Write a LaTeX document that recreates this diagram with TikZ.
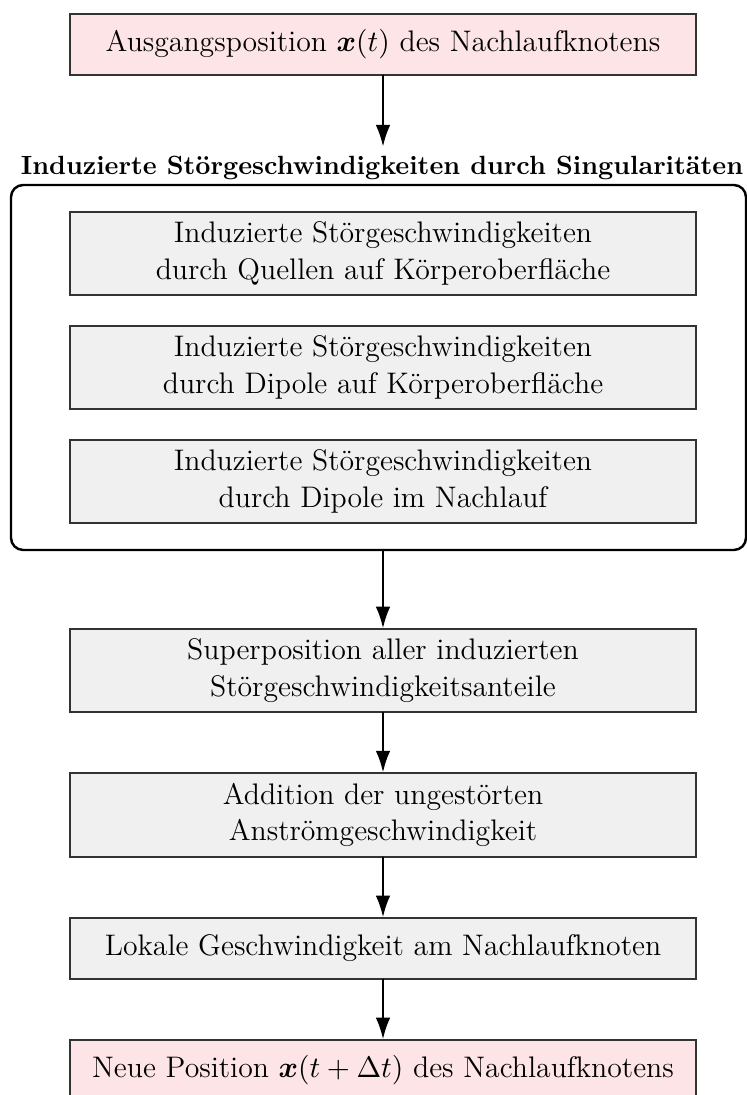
\documentclass[tikz,border=0pt]{standalone}
\usepackage{tikz}
\usepackage{xcolor}
\usepackage{amsmath}
\usepackage{amsfonts, amssymb}
\usetikzlibrary{arrows.meta}

\definecolor{startpink}{RGB}{253,228,230}
\definecolor{stepgray}{RGB}{240,240,240}

\begin{document}
\begin{tikzpicture}[>={Latex[length=8pt,width=5.4pt]}, line cap=round, x=0.37pt, y=0.37pt,
  stepbox/.style={draw=black!80, line width=0.5pt, fill=stepgray, align=center,
    minimum width=231.6pt, inner sep=0pt, font=\fontsize{11}{13.6}\selectfont},
  endbox/.style={stepbox, fill=startpink},
  flow/.style={->, line width=0.8pt}]

% --- layout helpers ---
\def\C{383}     % center column x
\def\H{1095}    % picture height

\useasboundingbox (0,0) rectangle (747,\H);

% --- start ---
\node[endbox, minimum height=22.6pt] (start) at (\C,\H-44.5)
  {Ausgangsposition $\boldsymbol{x}(t)$ des Nachlaufknotens};

% --- singularities group ---
\node[font=\bfseries\fontsize{9.75}{12}\selectfont] (grouptitle) at (382,\H-168)
  {Induzierte Störgeschwindigkeiten durch Singularitäten};
\node[draw, line width=0.9pt, rounded corners=4.5pt, minimum width=271.95pt,
  minimum height=135.05pt, inner sep=0pt] (group) at (378.5,\H-367.5) {};

\node[stepbox, minimum height=30.7pt] (quellen) at (\C,\H-253.5)
  {Induzierte Störgeschwindigkeiten\\durch Quellen auf Körperoberfläche};
\node[stepbox, minimum height=30.7pt] (dipole) at (\C,\H-367.5)
  {Induzierte Störgeschwindigkeiten\\durch Dipole auf Körperoberfläche};
\node[stepbox, minimum height=30.7pt] (nachlauf) at (\C,\H-481.5)
  {Induzierte Störgeschwindigkeiten\\durch Dipole im Nachlauf};

% --- remaining steps (top to bottom) ---
\node[stepbox, minimum height=30.7pt] (superpos) at (\C,\H-670.5)
  {Superposition aller induzierten\\Störgeschwindigkeitsanteile};
\node[stepbox, minimum height=31pt] (addition) at (\C,\H-815)
  {Addition der ungestörten\\Anströmgeschwindigkeit};
\node[stepbox, minimum height=22.6pt] (lokal) at (\C,\H-948.5)
  {Lokale Geschwindigkeit am Nachlaufknoten};
\node[endbox, minimum height=22.6pt] (neu) at (\C,\H-1070.5)
  {Neue Position $\boldsymbol{x}(t+\Delta t)$ des Nachlaufknotens};

% --- arrows ---
\draw[flow] (start) -- (start |- grouptitle.north);
\draw[flow] (group.south -| superpos) -- (superpos);
\draw[flow] (superpos) -- (addition);
\draw[flow] (addition) -- (lokal);
\draw[flow] (lokal) -- (neu);

\end{tikzpicture}
\end{document}
